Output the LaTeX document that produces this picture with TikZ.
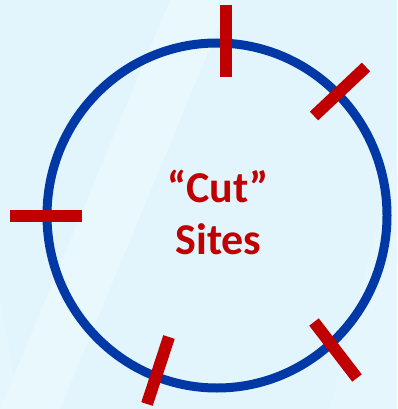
\documentclass[tikz,border=0pt]{standalone}
\usepackage{fontspec}
\setmainfont{Carlito}
\definecolor{bgblue}{RGB}{226,245,252}
\definecolor{bglight}{RGB}{232,248,253}
\definecolor{ringblue}{RGB}{0,56,166}
\definecolor{cutred}{RGB}{192,0,0}
\tikzset{
  ring/.style={draw=ringblue, line width=9pt},
  cutbar/.style={draw=cutred, line width=12pt, line cap=butt},
  label/.style={text=cutred, font=\fontsize{44}{52}\selectfont\bfseries, inner sep=0pt, anchor=base}
}
\begin{document}
\begin{tikzpicture}[x=1pt,y=-1pt]
\useasboundingbox (0,0) rectangle (397,409);
\fill[bgblue] (0,0) rectangle (397,409);
\fill[bglight] (0,409) -- (60,409) -- (230,0) -- (170,0) -- cycle;
\fill[bglight,opacity=0.6] (0,300) -- (0,409) -- (397,409) -- (397,150) -- (330,409) -- (20,409) -- cycle;
\draw[ring] (217,215.5) ellipse [x radius=170, y radius=172.5];
% cut sites
\coordinate (t1) at (226,5);   \coordinate (t2) at (226,77);
\coordinate (l1) at (10,215.5); \coordinate (l2) at (82,215.5);
\coordinate (ur1) at (366,67); \coordinate (ur2) at (314,116);
\coordinate (lr1) at (314,322); \coordinate (lr2) at (357,378);
\coordinate (b1) at (169,337); \coordinate (b2) at (147,404);
\draw[cutbar] (t1) -- (t2);
\draw[cutbar] (l1) -- (l2);
\draw[cutbar] (ur1) -- (ur2);
\draw[cutbar] (lr1) -- (lr2);
\draw[cutbar] (b1) -- (b2);
\node[label] (cut) at (218,202) {“Cut”};
\node[label] (sites) at (218.5,254) {Sites};
\end{tikzpicture}
\end{document}
